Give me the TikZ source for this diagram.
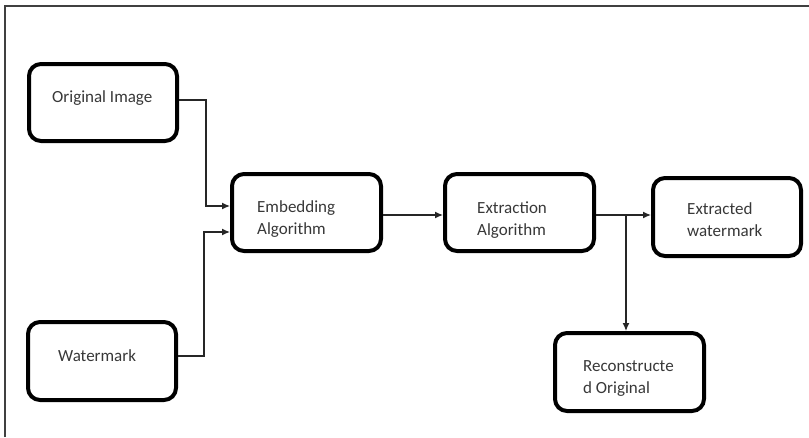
\documentclass[tikz,border=0pt]{standalone}
\usepackage{fontspec}
\setmainfont{Carlito}
\usetikzlibrary{arrows.meta}
\begin{document}
\begin{tikzpicture}[x=1pt,y=-1pt,
  box/.style={draw=black,line width=4pt,rounded corners=12pt,fill=white,inner sep=0pt},
  lbl/.style={anchor=base west,inner sep=0pt,align=left,text=black!78,
    font=\fontsize{17}{22}\selectfont},
  conn/.style={draw=black!85,line width=1.3pt,-{Latex[length=8pt,width=7pt]}}]
  \useasboundingbox (0,0) rectangle (809,437);
  % frame around the diagram (top and left edges)
  \draw[black!75,line width=1.8pt] (5,437) -- (5,6) -- (809,6);

  % process boxes
  \node[box,minimum width=148pt,minimum height=77pt] (orig) at (103,102.5) {};
  \node[box,minimum width=148pt,minimum height=78pt] (wm)   at (102,361) {};
  \node[box,minimum width=149pt,minimum height=77pt] (emb)  at (306.5,212.5) {};
  \node[box,minimum width=149pt,minimum height=77pt] (ext)  at (519.5,212.5) {};
  \node[box,minimum width=148pt,minimum height=78pt] (exwm) at (727,217) {};
  \node[box,minimum width=149pt,minimum height=78pt] (rec)  at (629.5,372) {};

  % box labels (anchored at the baseline of the last line)
  \node[lbl] (origt) at (52,102) {Original Image};
  \node[lbl] (wmt)   at (58,361) {Watermark};
  \node[lbl] (embt)  at (257,234.5) {Embedding\\Algorithm};
  \node[lbl] (extt)  at (477,235.5) {Extraction\\Algorithm};
  \node[lbl] (exwmt) at (687,236) {Extracted\\watermark};
  \node[lbl] (rect)  at (583,393.5) {Reconstructe\\d Original};

  % elbow points
  \coordinate (a1) at (206,100);
  \coordinate (a2) at (206,206);
  \coordinate (b1) at (204,356);
  \coordinate (b2) at (204,232);
  \coordinate (c1) at (626,215);

  % connectors
  \draw[conn] (orig.east |- a1) -- (a1) -- (a2) -- (emb.west |- a2);
  \draw[conn] (wm.east |- b1) -- (b1) -- (b2) -- (emb.west |- b2);
  \draw[conn] (emb.east |- c1) -- (ext.west |- c1);
  \draw[conn] (ext.east |- c1) -- (exwm.west |- c1);
  \draw[conn] (c1) -- (rec.north -| c1);
\end{tikzpicture}
\end{document}
